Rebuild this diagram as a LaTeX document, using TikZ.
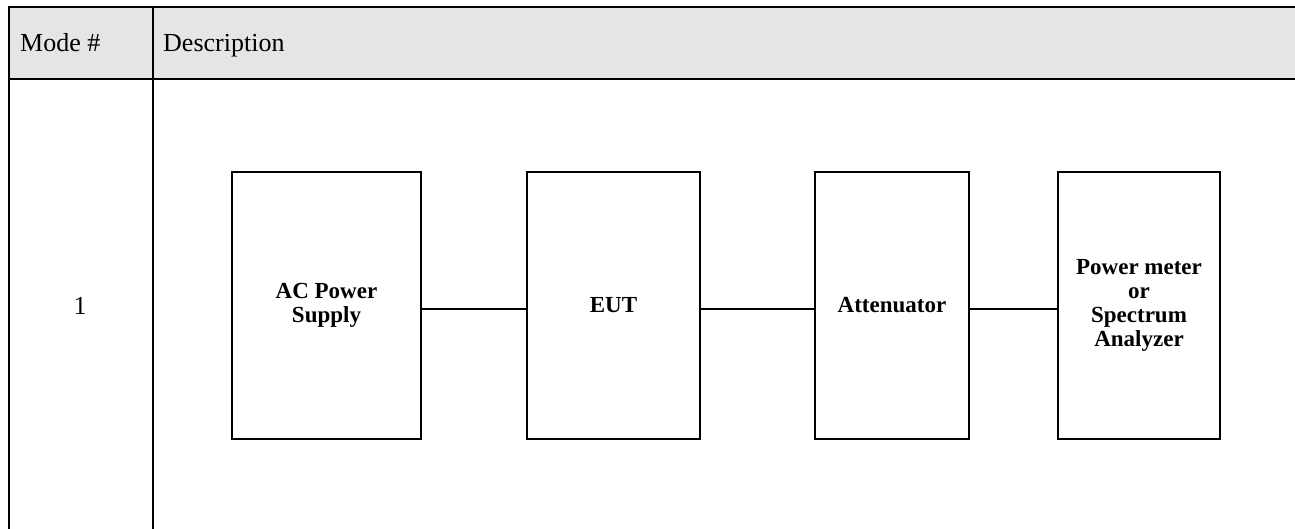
\documentclass[tikz,border=0pt]{standalone}
\usepackage{fontspec}
\setmainfont{Liberation Serif}
\usepackage{tikz}
\usetikzlibrary{backgrounds}

\begin{document}
\begin{tikzpicture}[x=1pt,y=-1pt,
  rule/.style={line width=2pt},
  link/.style={line width=1.5pt},
  cell/.style={inner sep=0pt,font=\fontsize{26}{30}\selectfont},
  unitbox/.style={draw,line width=2pt,inner sep=0pt,minimum height=267pt,
    align=center,font=\fontsize{23}{24}\selectfont\bfseries}]
\useasboundingbox (0,0) rectangle (1295,529);
% table head and rules
\fill[gray!20] (9,7) rectangle (1295,79);
\draw[rule] (1295,7) -- (9,7) -- (9,529);
\draw[rule] (9,79) -- (1295,79);
\draw[rule] (153,7) -- (153,529);
\node[cell,anchor=base west] (mode) at (20,52) {Mode \#};
\node[cell,anchor=base west] (desc) at (163,52) {Description};
\node[cell] (num) at (80,306) {1};
% test setup
\node[unitbox,minimum width=189pt] (acps) at (326.5,305.5) {AC Power\\Supply};
\node[unitbox,minimum width=173pt] (eut) at (613.5,305.5) {EUT};
\node[unitbox,minimum width=154pt] (att) at (892,305.5) {Attenuator};
\node[unitbox,minimum width=162pt] (meter) at (1139,305.5) {Power meter\\or\\Spectrum\\Analyzer};
\draw[link] ([yshift=-3.5pt]acps.east) -- ([yshift=-3.5pt]eut.west);
\draw[link] ([yshift=-3.5pt]eut.east) -- ([yshift=-3.5pt]att.west);
\draw[link] ([yshift=-3.5pt]att.east) -- ([yshift=-3.5pt]meter.west);
\end{tikzpicture}
\end{document}
